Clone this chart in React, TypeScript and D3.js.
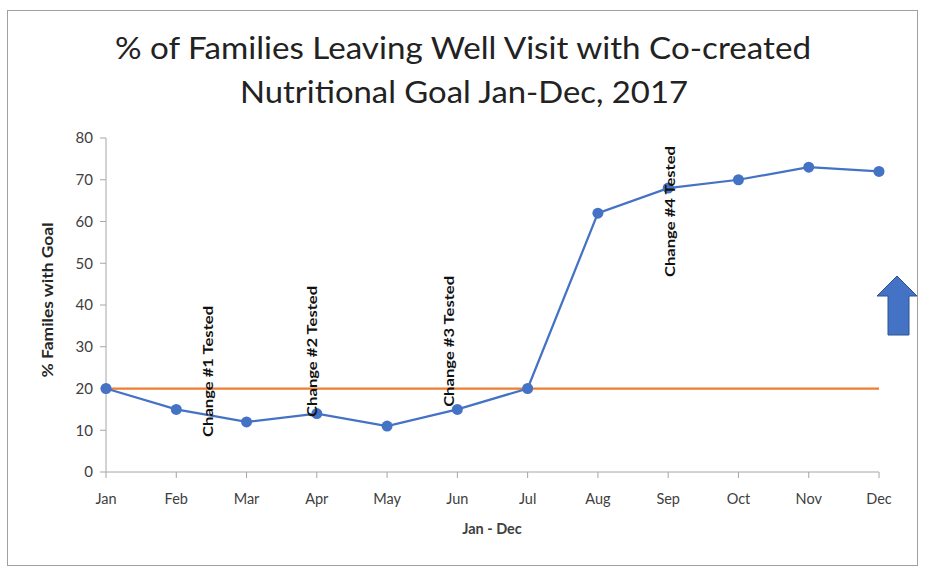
import React from "react";
import * as d3 from "d3";

const months = ["Jan","Feb","Mar","Apr","May","Jun","Jul","Aug","Sep","Oct","Nov","Dec"];
const pctValues = [20,15,12,14,11,15,20,62,68,70,73,72];
const goalValues = [20,20,20,20,20,20,20,20,20,20,20,20];
const yTicks = [0,10,20,30,40,50,60,70,80];
const changeLabels = ["Change #1 Tested","Change #2 Tested","Change #3 Tested","Change #4 Tested"];
// position of each annotation in month-index units and its bottom in value units
const changeAt = [1.45, 2.93, 4.88, 8.03];
const changeBottom = [8.4, 13.2, 15.6, 46.7];

const W = 925, H = 573;
const FONT = "Lato, 'Open Sans', 'Liberation Sans', sans-serif";

export default function App() {
  const x = d3.scaleLinear().domain([0, 11]).range([106, 879]);
  const y = d3.scaleLinear().domain([0, 80]).range([472, 138]);
  const line = d3.line<number>().x((_, i) => x(i)).y(d => y(d));
  const axisColor = "#A6A6A6";
  const tickColor = "#404040";
  return (
    <svg width={W} height={H} style={{ position: "absolute", left: 0, top: 0 }} fontFamily={FONT}>
      <rect x={0} y={0} width={W} height={H} fill="#fff" />
      <rect x={7.5} y={10.5} width={910} height={555} fill="#fff" stroke="#A0A0A0" strokeWidth={1} />
      <text x={463} y={59} textAnchor="middle" fontSize={30} fill="#222" textLength={696} lengthAdjust="spacingAndGlyphs">% of Families Leaving Well Visit with Co-created</text>
      <text x={464} y={103} textAnchor="middle" fontSize={30} fill="#222" textLength={448} lengthAdjust="spacingAndGlyphs">Nutritional Goal Jan-Dec, 2017</text>

      {/* axes */}
      <line x1={x(0)} x2={x(0)} y1={y(80)} y2={y(0)} stroke={axisColor} strokeWidth={1} />
      <line x1={x(0)} x2={x(11)} y1={y(0)} y2={y(0)} stroke={axisColor} strokeWidth={1} />
      {yTicks.map(t => (
        <g key={t}>
          <line x1={x(0) - 6} x2={x(0)} y1={y(t)} y2={y(t)} stroke={axisColor} />
          <text x={x(0) - 13} y={y(t)} dy="0.35em" textAnchor="end" fontSize={15} fill={tickColor}>{t}</text>
        </g>
      ))}
      {months.map((m, i) => (
        <g key={m}>
          <line x1={x(i)} x2={x(i)} y1={y(0)} y2={y(0) + 6} stroke={axisColor} />
          <text x={x(i)} y={y(0) + 32} textAnchor="middle" fontSize={14.5} fill={tickColor}>{m}</text>
        </g>
      ))}
      <text x={492} y={534} textAnchor="middle" fontSize={14.5} fontWeight="bold" fill="#404040">Jan - Dec</text>
      <text transform={`translate(53,${300}) rotate(-90)`} textAnchor="middle" fontSize={14.5} fontWeight="bold" fill="#262626" textLength={155} lengthAdjust="spacingAndGlyphs">% Familes with Goal</text>

      {/* goal line */}
      <path d={line(goalValues) || ""} fill="none" stroke="#ED7D31" strokeWidth={2.25} />
      {/* data */}
      <path d={line(pctValues) || ""} fill="none" stroke="#4472C4" strokeWidth={2.25} />
      {pctValues.map((v, i) => (
        <circle key={i} cx={x(i)} cy={y(v)} r={5.5} fill="#4472C4" />
      ))}

      {/* annotations */}
      {changeLabels.map((c, i) => (
        <text key={c} transform={`translate(${x(changeAt[i]) + 5},${y(changeBottom[i])}) rotate(-90)`} textAnchor="start" fontSize={14} fontWeight="bold" fill="#111" textLength={131} lengthAdjust="spacingAndGlyphs">{c}</text>
      ))}

      {/* up arrow */}
      <path d="M888,335 L888,296 L877,296 L897,276 L917,296 L909,296 L909,335 Z" fill="#4472C4" stroke="#2F528F" strokeWidth={1} />
    </svg>
  );
}
